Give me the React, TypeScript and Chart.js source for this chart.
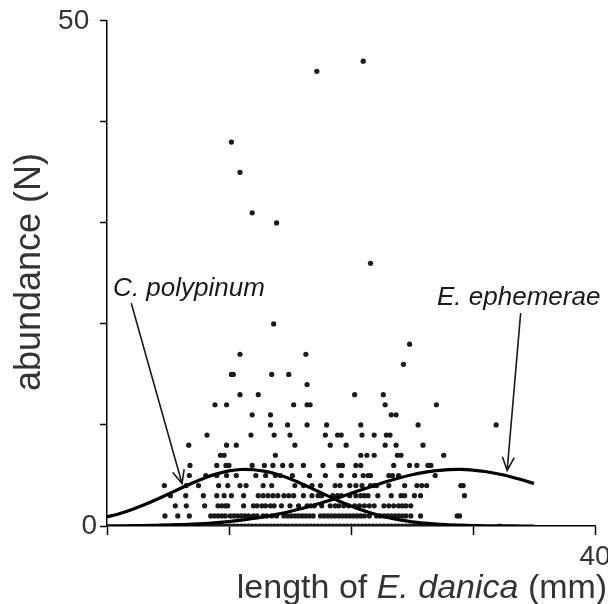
import React, { useEffect, useRef } from "react";
import { Chart, registerables } from "chart.js";

Chart.register(...registerables);

const FONT = "'Liberation Sans', Arial, Helvetica, sans-serif";
const INK = "#1a1a1a";

// axis ranges / tick labels
const xRange = [0, 40];
const yRange = [0, 50];
const xLabelValues = [40];
const yLabelValues = [0, 50];

// scatter: abundance levels and the lengths (mm) observed at each level
const rowCounts = [0, 1, 2, 3, 4, 5, 6, 7, 8, 9, 10, 11, 12, 13, 14, 15, 16, 17, 18, 20, 26, 30, 31, 35, 38, 45, 46];
const rowLengths: number[][] = [
  [4.6, 4.9, 5.3, 5.6, 5.9, 6.2, 6.5, 6.8, 7.9, 8.2, 8.5, 8.9, 9.2, 9.5, 9.8, 10.1, 10.4, 10.7, 11.0, 11.3, 11.6, 11.9, 12.2, 12.5, 12.8, 13.1, 13.4, 13.7, 14.0, 14.3, 14.6, 14.9, 15.2, 15.5, 15.8, 16.1, 16.4, 16.7, 17.0, 17.3, 17.6, 17.9, 18.2, 18.5, 18.8, 19.1, 19.4, 19.7, 20.0, 20.3, 20.6, 20.9, 21.2, 21.5, 21.8, 22.1, 22.4, 22.7, 23.0, 23.3, 23.6, 23.9, 24.2, 24.5, 24.8, 25.1, 25.4, 25.7, 26.0, 26.3, 26.6, 26.9, 27.2, 27.5, 28.6, 28.9, 29.2, 32.2],
  [4.75, 5.8, 6.75, 8.5, 8.8, 9.1, 9.4, 9.7, 10.1, 10.4, 10.7, 11.0, 11.3, 11.6, 12.0, 12.3, 12.8, 13.1, 13.5, 13.9, 14.5, 14.8, 15.1, 15.4, 15.7, 16.0, 16.3, 16.6, 16.9, 17.5, 17.8, 18.1, 18.4, 18.7, 19.0, 19.3, 19.6, 19.9, 20.2, 20.5, 20.8, 21.1, 21.5, 22.1, 22.4, 22.7, 23.0, 23.3, 23.6, 23.9, 24.2, 24.5, 24.9, 25.7, 28.7, 28.9],
  [5.6, 6.5, 8.0, 9.1, 9.4, 9.7, 9.9, 11.2, 12.0, 12.3, 12.7, 13.0, 13.4, 13.7, 14.3, 15.0, 15.7, 16.4, 16.7, 17.0, 17.6, 18.3, 18.7, 19.0, 19.4, 19.8, 20.3, 20.7, 21.1, 21.5, 21.9, 22.7, 23.1, 23.5, 23.9, 24.2, 24.5, 24.9],
  [5.2, 6.45, 7.9, 9.0, 9.6, 10.2, 11.2, 12.4, 12.8, 13.2, 13.6, 14.0, 14.5, 14.9, 15.3, 16.1, 16.8, 17.3, 17.6, 18.5, 18.9, 19.2, 19.9, 20.4, 20.8, 21.1, 21.4, 22.2, 23.3, 24.1, 24.4, 25.2, 25.7, 29.3],
  [4.7, 6.5, 7.5, 9.15, 9.9, 10.9, 11.4, 12.8, 13.5, 15.4, 16.1, 16.8, 17.5, 18.7, 19.1, 19.9, 20.4, 20.9, 21.6, 21.9, 22.1, 23.1, 24.4, 25.4, 25.8, 26.2, 29.0, 29.2],
  [6.75, 8.1, 9.0, 9.8, 10.6, 12.2, 13.0, 13.8, 14.2, 15.2, 16.6, 17.9, 19.2, 20.3, 21.0, 21.4, 21.6, 23.1, 23.4, 23.9, 26.9],
  [6.8, 9.0, 9.75, 10.0, 11.9, 12.9, 13.6, 14.4, 15.1, 16.1, 17.7, 19.0, 19.3, 20.4, 20.8, 23.5, 24.8, 25.4, 26.3, 26.55],
  [9.3, 9.6, 13.8, 20.8, 21.3, 21.9, 23.8, 24.1, 27.6],
  [6.7, 9.8, 10.6, 15.4, 18.3, 19.6, 22.8, 23.7, 25.9],
  [8.2, 11.8, 13.7, 15.0, 17.9, 18.9, 19.2, 20.9, 21.9, 22.9, 23.2],
  [13.4, 14.8, 16.4, 18.0, 20.8, 25.5, 31.9],
  [11.9, 13.4, 23.3, 23.7],
  [8.85, 9.8, 15.3, 16.4, 16.65, 22.8, 27.0],
  [10.9, 12.4, 20.3, 22.65],
  [16.4],
  [10.2, 10.35, 13.5, 14.9],
  [24.3],
  [10.9, 16.3],
  [24.8],
  [13.66],
  [21.6],
  [13.9],
  [11.9],
  [10.9],
  [10.2],
  [17.2],
  [21.0],
];

// fitted curves (at 1 mm steps)
const curveLengths = [0, 1, 2, 3, 4, 5, 6, 7, 8, 9, 10, 11, 12, 13, 14, 15, 16, 17, 18, 19, 20, 21, 22, 23, 24, 25, 26, 27, 28, 29, 30, 31, 32, 33, 34, 35];
const polypinumCurve = [0.9, 1.22, 1.61, 2.07, 2.59, 3.14, 3.71, 4.26, 4.76, 5.16, 5.45, 5.59, 5.57, 5.4, 5.09, 4.67, 4.16, 3.6, 3.03, 2.48, 1.98, 1.53, 1.15, 0.84, 0.6, 0.41, 0.28, 0.18, 0.12, 0.07, 0.04, 0.02, 0.01, 0.01, 0.0, 0.0];
const ephemeraeCurve = [0.01, 0.02, 0.03, 0.05, 0.07, 0.1, 0.13, 0.19, 0.25, 0.33, 0.44, 0.58, 0.74, 0.94, 1.17, 1.43, 1.74, 2.07, 2.44, 2.83, 3.23, 3.64, 4.04, 4.42, 4.77, 5.07, 5.31, 5.48, 5.58, 5.6, 5.53, 5.39, 5.17, 4.9, 4.57, 4.2];

// annotation labels and arrows, in data units
const labelNames = ["C. polypinum", "E. ephemerae"];
const labelAnchors = [[0.5, 22.8], [27.05, 21.85]];
const arrowStarts = [[2.0, 22.0], [33.9, 21.0]];
const arrowTips = [[6.15, 4.2], [32.8, 5.5]];

const overlayPlugin = {
  id: "overlay",
  afterDraw(chart: any) {
    const { ctx } = chart;
    const xs = chart.scales.x;
    const ys = chart.scales.y;
    ctx.save();
    ctx.fillStyle = INK;
    ctx.strokeStyle = INK;
    ctx.lineWidth = 1.6;
    ctx.lineCap = "round";

    // labels
    ctx.font = `italic 26px ${FONT}`;
    ctx.textAlign = "left";
    ctx.textBaseline = "alphabetic";
    labelNames.forEach((name, i) => {
      ctx.fillText(name, xs.getPixelForValue(labelAnchors[i][0]), ys.getPixelForValue(labelAnchors[i][1]));
    });

    // arrows
    arrowStarts.forEach((s, i) => {
      const x0 = xs.getPixelForValue(s[0]);
      const y0 = ys.getPixelForValue(s[1]);
      const x1 = xs.getPixelForValue(arrowTips[i][0]);
      const y1 = ys.getPixelForValue(arrowTips[i][1]);
      ctx.beginPath();
      ctx.moveTo(x0, y0);
      ctx.lineTo(x1, y1);
      const ang = Math.atan2(y1 - y0, x1 - x0);
      const len = 14;
      const spread = 0.42;
      ctx.moveTo(x1 - len * Math.cos(ang - spread), y1 - len * Math.sin(ang - spread));
      ctx.lineTo(x1, y1);
      ctx.lineTo(x1 - len * Math.cos(ang + spread), y1 - len * Math.sin(ang + spread));
      ctx.stroke();
    });

    // x axis title with italic species name
    const parts: [string, boolean][] = [["length of ", false], ["E. danica", true], [" (mm)", false]];
    const size = 34;
    let total = 0;
    const widths = parts.map(([t, it]) => {
      ctx.font = `${it ? "italic " : ""}${size}px ${FONT}`;
      const w = ctx.measureText(t).width;
      total += w;
      return w;
    });
    let px = 414 - total / 2;
    ctx.fillStyle = "#333";
    parts.forEach(([t, it], i) => {
      ctx.font = `${it ? "italic " : ""}${size}px ${FONT}`;
      ctx.fillText(t, px, 590);
      px += widths[i];
    });

    // y axis title
    ctx.translate(22, 264);
    ctx.rotate(-Math.PI / 2);
    ctx.font = `36px ${FONT}`;
    ctx.textAlign = "center";
    ctx.textBaseline = "middle";
    ctx.fillText("abundance (N)", 0, 0);
    ctx.restore();
  },
};

export default function App() {
  const ref = useRef<HTMLCanvasElement | null>(null);

  useEffect(() => {
    if (!ref.current) return;
    const points: { x: number; y: number }[] = [];
    rowCounts.forEach((n, i) => rowLengths[i].forEach((len) => points.push({ x: len, y: n })));

    const axisCommon = {
      grid: { display: true, drawOnChartArea: false, drawTicks: true, tickWidth: 1.5, tickColor: "#000" },
      border: { display: true, color: "#000", width: 1.5 },
    };

    const chart = new Chart(ref.current, {
      type: "scatter",
      data: {
        datasets: [
          {
            label: "C. polypinum",
            data: curveLengths.map((x, i) => ({ x, y: polypinumCurve[i] })),
            showLine: true,
            borderColor: "#000",
            borderWidth: 3.2,
            pointRadius: 0,
            tension: 0.3,
          } as any,
          {
            label: "E. ephemerae",
            data: curveLengths.map((x, i) => ({ x, y: ephemeraeCurve[i] })),
            showLine: true,
            borderColor: "#000",
            borderWidth: 3.2,
            pointRadius: 0,
            tension: 0.3,
          },
          {
            label: "observations",
            data: points,
            pointRadius: 2.6,
            pointBackgroundColor: INK,
            pointBorderWidth: 0,
          },
        ],
      },
      options: {
        animation: false,
        responsive: true,
        maintainAspectRatio: false,
        layout: { padding: { top: 10, right: 21, left: 0, bottom: 0 } },
        plugins: { legend: { display: false }, tooltip: { enabled: false } },
        scales: {
          x: {
            type: "linear",
            min: xRange[0],
            max: xRange[1],
            ...axisCommon,
            grid: { ...axisCommon.grid, tickLength: 9 },
            ticks: {
              stepSize: 10,
              autoSkip: false,
              maxRotation: 0,
              padding: 5,
              color: "#333",
              font: { family: FONT, size: 28 },
              callback: (v: any) => (xLabelValues.includes(Number(v)) ? String(v) : ""),
            },
            afterFit: (s: any) => {
              s.height = 78;
            },
          },
          y: {
            type: "linear",
            min: yRange[0],
            max: yRange[1],
            ...axisCommon,
            grid: { ...axisCommon.grid, tickLength: 7 },
            ticks: {
              stepSize: 10,
              autoSkip: false,
              padding: 3,
              color: "#333",
              font: { family: FONT, size: 28, lineHeight: 0.7 },
              callback: (v: any) => (yLabelValues.includes(Number(v)) ? (Number(v) === 50 ? "50 " : String(v)) : ""),
            },
            afterFit: (s: any) => {
              s.width = 99;
            },
          },
        },
      },
      plugins: [overlayPlugin],
    });
    return () => chart.destroy();
  }, []);

  return (
    <div style={{ position: "relative", width: 608, height: 596 }}>
      <canvas ref={ref} />
    </div>
  );
}
